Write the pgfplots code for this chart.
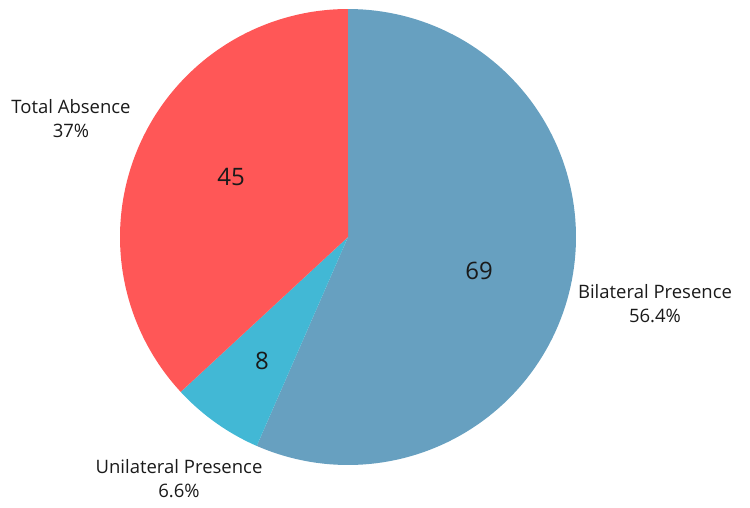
\documentclass[border=0pt]{standalone}
\usepackage{pgfplots}
\pgfplotsset{compat=1.18}
\usepackage{fontspec}
\setmainfont{Open Sans}
\definecolor{cBil}{HTML}{67A0C0}
\definecolor{cUni}{HTML}{42B8D5}
\definecolor{cAbs}{HTML}{FF5757}
\definecolor{txt}{HTML}{1A1A1A}
% values
\def\vBil{69}
\def\vUni{8}
\def\vAbs{45}
\pgfmathsetmacro{\tot}{\vBil+\vUni+\vAbs}
\pgfmathsetmacro{\aA}{90}
\pgfmathsetmacro{\aB}{\aA-\vBil/\tot*360}
\pgfmathsetmacro{\aC}{\aB-\vUni/\tot*360}
\pgfmathsetmacro{\aD}{\aC-\vAbs/\tot*360}
\def\cx{348}
\def\cy{270}
\def\R{228}
\begin{document}
\begin{tikzpicture}
\begin{axis}[
  scale only axis, width=750pt, height=507pt,
  xmin=0, xmax=750, ymin=0, ymax=507,
  hide axis, clip=false,
  samples=120, variable=\t,
]
\path (axis cs:0,0) rectangle (axis cs:750,507);
\addplot[fill=cBil, draw=none, domain=\aB:\aA] ({\cx+\R*cos(\t)},{\cy+\R*sin(\t)}) -- (axis cs:\cx,\cy) -- cycle;
\addplot[fill=cUni, draw=none, domain=\aC:\aB] ({\cx+\R*cos(\t)},{\cy+\R*sin(\t)}) -- (axis cs:\cx,\cy) -- cycle;
\addplot[fill=cAbs, draw=none, domain=\aD:\aC] ({\cx+\R*cos(\t)},{\cy+\R*sin(\t)}) -- (axis cs:\cx,\cy) -- cycle;
% value labels
\node[text=txt, font=\fontsize{24}{28}\selectfont] at (axis cs:479,236) {69};
\node[text=txt, font=\fontsize{24}{28}\selectfont] at (axis cs:231,330) {45};
\node[text=txt, font=\fontsize{24}{28}\selectfont] at (axis cs:262,146) {8};
% category labels
\node[text=txt, font=\fontsize{18.5}{24}\selectfont, align=center] at (axis cs:71,388) {Total Absence\\37\%};
\node[text=txt, font=\fontsize{18.5}{24}\selectfont, align=center] at (axis cs:655,203) {Bilateral Presence\\56.4\%};
\node[text=txt, font=\fontsize{18.5}{24}\selectfont, align=center] at (axis cs:179,28) {Unilateral Presence\\6.6\%};
\end{axis}
\end{tikzpicture}
\end{document}
